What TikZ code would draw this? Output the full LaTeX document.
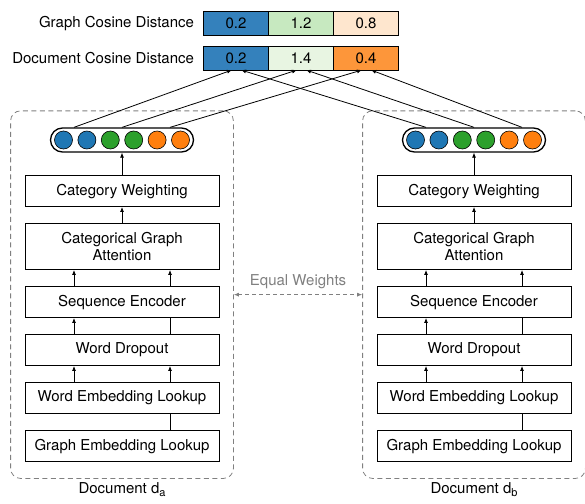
\documentclass[tikz,border=0pt]{standalone}
\usepackage{fontspec}
\setmainfont{TeX Gyre Heros}
\usetikzlibrary{arrows.meta,positioning,fit,calc}
\definecolor{cblue}{RGB}{52,129,188}
\definecolor{cgreen}{RGB}{199,233,192}
\definecolor{cpeach}{RGB}{254,230,206}
\definecolor{cpale}{RGB}{232,245,226}
\definecolor{corange}{RGB}{253,150,58}
\definecolor{tblue}{RGB}{31,119,180}
\definecolor{tgreen}{RGB}{44,160,44}
\definecolor{torange}{RGB}{255,127,14}
\definecolor{dgray}{RGB}{128,128,128}
\newcommand{\sub}[1]{\raisebox{-3.5pt}{\fontsize{11}{11}\selectfont #1}}
\tikzset{blk/.style={draw,line width=.8pt,minimum width=194pt,minimum height=31pt,align=center,inner sep=2pt},
 cell/.style={draw,line width=.8pt,minimum width=65pt,minimum height=24pt,inner sep=0pt,outer sep=0pt},
 vec/.style={draw,line width=1.3pt,rounded corners=12pt,minimum width=143pt,minimum height=24pt},
 dot/.style={circle,draw,line width=.6pt,minimum size=18pt,inner sep=0pt},
 grp/.style={draw=dgray,dash pattern=on 5pt off 3.5pt,line width=.8pt,rounded corners=10pt,inner xsep=14pt,inner ysep=16.5pt},
 arr/.style={-{Latex[length=5pt,width=4pt]},line width=.8pt},
 wire/.style={line width=.8pt},
 every node/.style={font=\fontsize{15}{17}\selectfont}}
\begin{document}
\begin{tikzpicture}[x=1pt,y=-1pt,node distance=16.2pt]
\useasboundingbox (0,0) rectangle (585,503);
% distance rows
\node[cell,fill=cblue] (g1) at (236,23.5) {0.2};
\node[cell,fill=cgreen,right=0pt of g1] (g2) {1.2};
\node[cell,fill=cpeach,right=0pt of g2] (g3) {0.8};
\node[cell,fill=cblue] (d1) at (236,58) {0.2};
\node[cell,fill=cpale,right=0pt of d1] (d2) {1.4};
\node[cell,fill=corange,right=0pt of d2] (d3) {0.4};
\node[left=6pt of g1] (gl) {Graph Cosine Distance};
\node[left=6pt of d1] (dl) {Document Cosine Distance};
% the two encoders
\foreach \s/\x in {a/122,b/474}{
  \node[vec] (v\s) at (\x,140) {};
  \foreach \c [count=\i] in {tblue,tblue,tgreen,tgreen,torange,torange}
    \node[dot,fill=\c] (v\s\i) at ($(v\s)+(23.4*\i-81.9,0)$) {};
  \node[blk,below=22.5pt of v\s] (cw\s) {Category Weighting};
  \node[blk,minimum height=46pt,below=of cw\s] (ga\s) {Categorical Graph\\Attention};
  \node[blk,below=of ga\s] (se\s) {Sequence Encoder};
  \node[blk,below=of se\s] (wd\s) {Word Dropout};
  \node[blk,below=of wd\s] (we\s) {Word Embedding Lookup};
  \node[blk,below=of we\s] (ge\s) {Graph Embedding Lookup};
  \node[grp,fit=(v\s)(ge\s)] (f\s) {};
  \node[below=0pt of f\s] (doc\s) {Document d\sub{\s}};
  \draw[arr] (cw\s) -- (v\s);
  \draw[arr] (ga\s) -- (cw\s);
  \foreach \o in {-48,48}{
    \draw[arr] ([xshift=\o pt]se\s.north) -- ([xshift=\o pt]ga\s.south);
    \draw[arr] ([xshift=\o pt]we\s.north) -- ([xshift=\o pt]wd\s.south);
  }
  \draw[arr] ([xshift=-48pt]wd\s.north) -- ([xshift=-48pt]se\s.south);
  \draw[wire] ([xshift=48pt]wd\s.north) -- ([xshift=48pt]se\s.south);
  \draw[wire] ([xshift=48pt]ge\s.north) -- ([xshift=48pt]we\s.south);
}
% vectors to distances
\foreach \k/\o in {1/-48,2/0,3/48}{
  \draw[arr] ([xshift=\o pt]va.north) -- ([xshift=-4pt]d\k.south);
  \draw[arr] ([xshift=\o pt]vb.north) -- ([xshift=5pt]d\k.south);
}
\draw[{Latex[length=5pt,width=4pt]}-{Latex[length=5pt,width=4pt]},draw=dgray,line width=.8pt,dash pattern=on 4pt off 3pt]
  (fa.east) -- node[above=2.5pt,text=dgray] (eq) {Equal Weights} (fb.west);
\end{tikzpicture}
\end{document}
